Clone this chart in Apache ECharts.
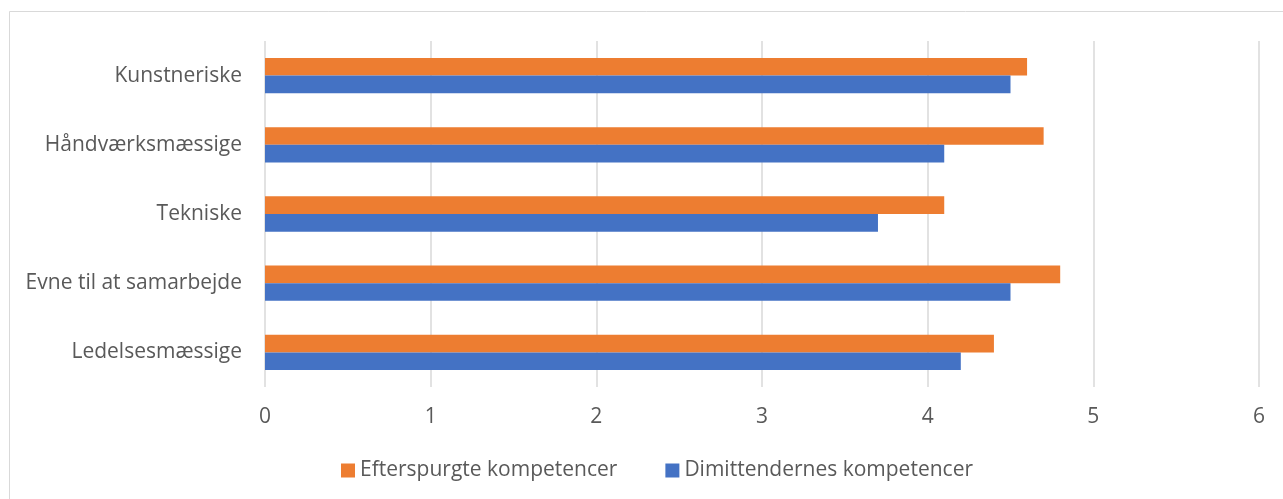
<!DOCTYPE html>
<html>
<head>
<meta charset="utf-8">
<script src="https://cdn.jsdelivr.net/npm/echarts@6/dist/echarts.min.js"></script>
<style>
html,body{margin:0;padding:0;background:#fff;}
#chart{width:1283px;height:499px;}
</style>
</head>
<body>
<div id="chart"></div>
<script>
const categories = ["Kunstneriske", "Håndværksmæssige", "Tekniske", "Evne til at samarbejde", "Ledelsesmæssige"];
const seriesNames = ["Efterspurgte kompetencer", "Dimittendernes kompetencer"];
const efterspurgte = [4.6, 4.7, 4.1, 4.8, 4.4];
const dimittendernes = [4.5, 4.1, 3.7, 4.5, 4.2];
const xTicks = [0, 1, 2, 3, 4, 5, 6];

const chart = echarts.init(document.getElementById('chart'), null, {renderer: 'canvas'});
const font = '"Open Sans", "DejaVu Sans", sans-serif';
chart.setOption({
  animation: false,
  backgroundColor: '#fff',
  graphic: [{
    type: 'rect',
    shape: {x: 9.5, y: 11.5, width: 1300, height: 600},
    style: {fill: 'none', stroke: '#D9D9D9', lineWidth: 1},
    silent: true, z: -10
  }],
  textStyle: {fontFamily: font, color: '#595959'},
  grid: {left: 265, right: 24, top: 41, bottom: 112, containLabel: false},
  legend: {
    data: seriesNames,
    top: 460,
    left: 341,
    icon: 'rect',
    itemWidth: 14,
    itemHeight: 14,
    itemGap: 48,
    padding: 0,
    textStyle: {fontFamily: font, fontSize: 21, color: '#595959'}
  },
  xAxis: {
    type: 'value',
    min: xTicks[0],
    max: xTicks[xTicks.length - 1],
    interval: 1,
    axisLine: {show: false},
    axisTick: {show: false},
    axisLabel: {fontFamily: font, fontSize: 21, color: '#595959', margin: 20,
      formatter: v => String(v)},
    splitLine: {show: true, lineStyle: {color: '#D9D9D9', width: 1.5}}
  },
  yAxis: {
    type: 'category',
    data: categories,
    inverse: true,
    axisLine: {show: false},
    axisTick: {show: false},
    axisLabel: {fontFamily: font, fontSize: 21, color: '#595959', margin: 23}
  },
  series: [
    {name: seriesNames[0], type: 'bar', data: efterspurgte, itemStyle: {color: '#ED7D31'},
      barGap: '0%', barCategoryGap: '49%'},
    {name: seriesNames[1], type: 'bar', data: dimittendernes, itemStyle: {color: '#4472C4'},
      barGap: '0%', barCategoryGap: '49%'}
  ]
});
</script>
</body>
</html>
